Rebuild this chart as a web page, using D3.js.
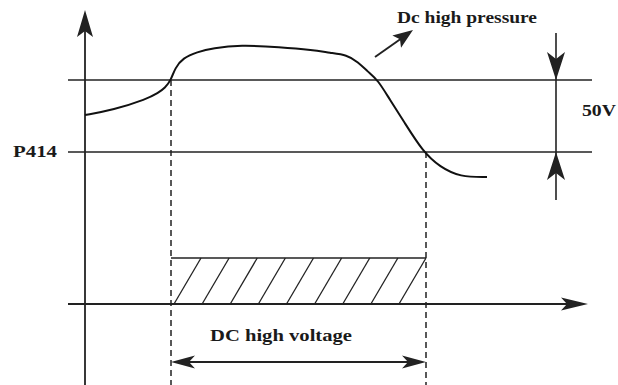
<!DOCTYPE html>
<html><head><meta charset="utf-8">
<script src="https://cdn.jsdelivr.net/npm/d3@7"></script>
<style>
html,body{margin:0;padding:0;background:#fff;}
svg{display:block;}
text{font-family:'Liberation Serif','Times New Roman',Times,serif;font-weight:700;fill:#1a1a1a;}
</style></head>
<body>
<script>
// ---- data ----
const curveTime = [0, 5.6, 12.4, 14.6, 16, 17.2, 18, 19.6, 22.4, 25.6, 31, 39, 45.6, 49, 52.4, 54.6, 56.6, 58.6, 61, 63.6, 67.6, 71, 75, 80.4];
const curveVolt = [25.7, 29.2, 36.8, 41, 44.4, 50, 58.3, 65.3, 69.4, 72.2, 74.3, 72.9, 70.8, 68.8, 67.4, 62.5, 55.6, 50, 36.1, 22.2, 0, -10.4, -17.4, -17.4];
const thresholdLevels = [0, 50];          // P414 and P414 + 50V
const thresholdLabels = ["P414", ""];
const switchTimes = [17.2, 68.2];         // DC high voltage on / off
const signalLevels = [0, 1];
const labels = { curve: "Dc high pressure", band: "50V", signal: "DC high voltage" };

// ---- layout ----
const W = 618, H = 385;
const svg = d3.select("body").append("svg").attr("width", W).attr("height", H);
const ink = "#222";

const x = d3.scaleLinear().domain([0, 100]).range([85, 585]);
const y = d3.scaleLinear().domain([0, 50]).range([152, 80]);
const ys = d3.scaleLinear().domain(signalLevels).range([304, 258]);

function arrowHead(tx, ty, ang, L, w, notch) {
  const c = Math.cos(ang), s = Math.sin(ang);
  const bx = tx - L * c, by = ty - L * s;
  const nx = tx - (L - notch) * c, ny = ty - (L - notch) * s;
  const px = -s, py = c;
  return `M${tx},${ty}L${bx + w * px},${by + w * py}L${nx},${ny}L${bx - w * px},${by - w * py}Z`;
}
function head(tx, ty, ang, L, w, notch) {
  svg.append("path").attr("d", arrowHead(tx, ty, ang, L, w, notch)).attr("fill", ink);
}

// threshold lines
svg.selectAll("line.thr").data(thresholdLevels).join("line")
  .attr("class", "thr")
  .attr("x1", 68).attr("x2", 592)
  .attr("y1", d => y(d)).attr("y2", d => y(d))
  .attr("stroke", ink).attr("stroke-width", 1.6);
svg.selectAll("text.thr").data(thresholdLevels.filter((d, i) => thresholdLabels[i])).join("text")
  .attr("class", "thr")
  .attr("x", 13).attr("y", d => y(d) + 5)
  .attr("font-size", 17)
  .attr("textLength", 44).attr("lengthAdjust", "spacingAndGlyphs")
  .text((d, i) => thresholdLabels[i]);

// y axis
svg.append("line").attr("x1", x(0)).attr("x2", x(0)).attr("y1", 385).attr("y2", 30)
  .attr("stroke", ink).attr("stroke-width", 1.8);
head(x(0), 10, -Math.PI / 2, 27, 8, 6);

// x axis (signal baseline)
svg.append("line").attr("x1", 68).attr("x2", 575).attr("y1", ys(0)).attr("y2", ys(0))
  .attr("stroke", ink).attr("stroke-width", 1.8);
head(588, ys(0), 0, 27, 6.5, 6);

// dashed switch lines
svg.selectAll("line.sw").data(switchTimes).join("line")
  .attr("class", "sw")
  .attr("x1", d => x(d)).attr("x2", d => x(d))
  .attr("y1", (d, i) => y(thresholdLevels[1 - i])).attr("y2", 385)
  .attr("stroke", ink).attr("stroke-width", 1.5)
  .attr("stroke-dasharray", "6,4");

// signal bar top
svg.append("line")
  .attr("x1", x(switchTimes[0])).attr("x2", x(switchTimes[1]))
  .attr("y1", ys(1)).attr("y2", ys(1))
  .attr("stroke", ink).attr("stroke-width", 1.6);

// hatching
const x0 = x(switchTimes[0]), x1 = x(switchTimes[1]);
const slant = 27, nH = 9, step = (x1 - x0 - slant - 3) / (nH - 1);
svg.selectAll("line.hatch").data(d3.range(nH)).join("line")
  .attr("class", "hatch")
  .attr("x1", i => x0 + 3 + i * step).attr("y1", ys(0))
  .attr("x2", i => x0 + 3 + i * step + slant).attr("y2", ys(1))
  .attr("stroke", ink).attr("stroke-width", 1.3);

// voltage curve
const pts = curveTime.map((t, i) => [x(t), y(curveVolt[i])]);
svg.append("path")
  .attr("d", d3.line().curve(d3.curveBasis)(pts))
  .attr("fill", "none").attr("stroke", "#111").attr("stroke-width", 2);

// curve label + arrow
svg.append("line").attr("x1", 375).attr("y1", 57).attr("x2", 402).attr("y2", 38)
  .attr("stroke", ink).attr("stroke-width", 2);
head(413, 30, Math.atan2(30 - 57, 413 - 375), 20, 7.5, 4);
svg.append("text").attr("x", 397).attr("y", 23).attr("font-size", 16)
  .attr("textLength", 140).attr("lengthAdjust", "spacingAndGlyphs")
  .text(labels.curve);

// 50V dimension
const dx = 556;
svg.append("line").attr("x1", dx).attr("x2", dx).attr("y1", 33).attr("y2", 200)
  .attr("stroke", ink).attr("stroke-width", 1.6);
head(dx, y(50), Math.PI / 2, 28, 9, 7);
head(dx, y(0), -Math.PI / 2, 28, 9, 7);
svg.append("text").attr("x", 582).attr("y", 116).attr("font-size", 17)
  .attr("textLength", 34).attr("lengthAdjust", "spacingAndGlyphs")
  .text(labels.band);

// DC high voltage span
const ay = 362;
svg.append("line").attr("x1", x0 + 10).attr("x2", x1 - 10).attr("y1", ay).attr("y2", ay)
  .attr("stroke", ink).attr("stroke-width", 1.8);
head(x0, ay, Math.PI, 24, 6.5, 6);
head(x1, ay, 0, 24, 6.5, 6);
svg.append("text").attr("x", 210).attr("y", 341).attr("font-size", 16)
  .attr("textLength", 142).attr("lengthAdjust", "spacingAndGlyphs")
  .text(labels.signal);
</script>
</body></html>
